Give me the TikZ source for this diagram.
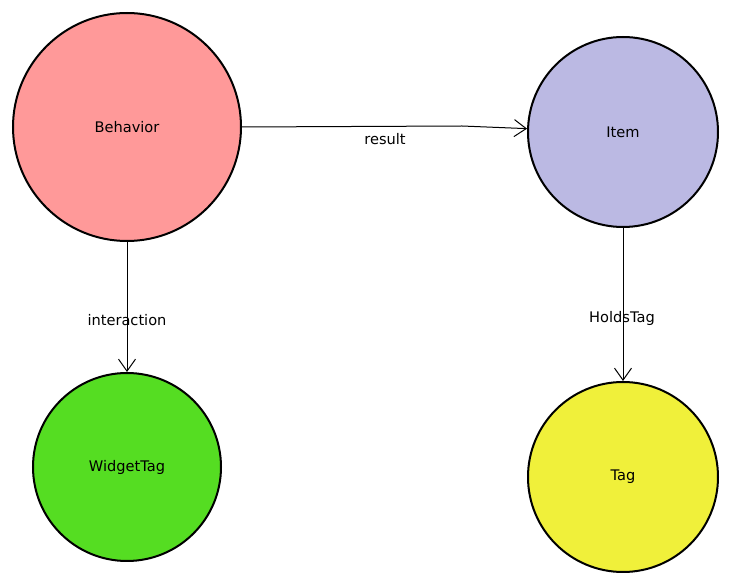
\documentclass[tikz,border=0pt]{standalone}
\usepackage{fontspec}
\setmainfont{DejaVu Sans}
\usetikzlibrary{arrows.meta}
\definecolor{cBeh}{HTML}{FF9999}
\definecolor{cItem}{HTML}{BBB9E3}
\definecolor{cWid}{HTML}{55DD22}
\definecolor{cTag}{HTML}{F0F03A}
\begin{document}
\begin{tikzpicture}[x=1pt,y=-1pt,
  ent/.style={circle,draw=black,line width=2pt,inner sep=0pt,font=\fontsize{14.6}{17}\selectfont},
  rel/.style={draw=black,line width=1pt,-{Straight Barb[length=12pt,width=17pt,line width=1pt]}},
  lab/.style={font=\fontsize{14.6}{17}\selectfont,inner sep=1pt}]
\useasboundingbox (0,0) rectangle (732,585);
\node[ent,fill=cBeh,minimum size=228pt] (beh) at (127,127) {Behavior};
\node[ent,fill=cItem,minimum size=190pt] (item) at (623,132) {Item};
\node[ent,fill=cWid,minimum size=188pt] (wid) at (127,467) {WidgetTag};
\node[ent,fill=cTag,minimum size=190pt] (tag) at (623,477) {Tag};
\coordinate (bend) at (462,126);
\draw[rel] (beh.east) -- (bend) -- (item.178);
\node[lab] (lres) at (385,139) {result};
\draw[rel] (beh.south) -- (wid.north);
\node[lab] (lint) at (127,320) {interaction};
\draw[rel] (item.south) -- (tag.north);
\node[lab] (lhold) at (622,318) {HoldsTag};
\end{tikzpicture}
\end{document}
